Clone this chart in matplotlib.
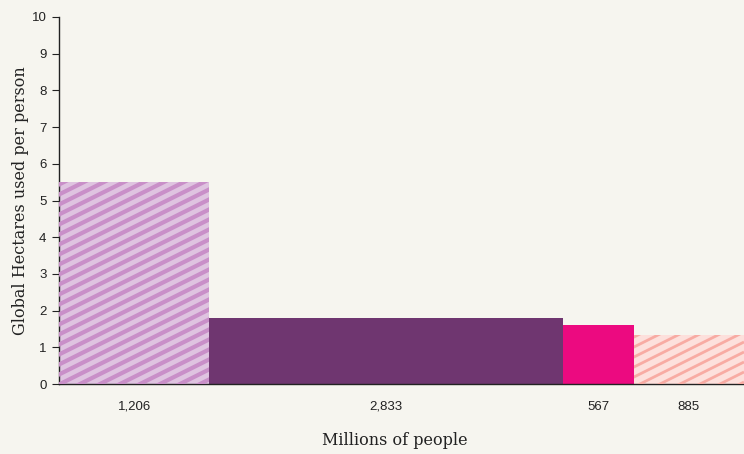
import matplotlib.pyplot as plt
import numpy as np
from matplotlib.transforms import IdentityTransform

# data
population = [1206, 2833, 567, 885]          # millions of people (bar widths)
hectares = [5.5, 1.8, 1.6, 1.35]              # global hectares per person
pop_labels = ["1,206", "2,833", "567", "885"]
fills = ["#dfc3e0", "#6f3670", "#ec0a80", "#fde0dc"]
stripes = ["#c98fc8", None, None, "#f8aba3"]
stripe_w = [3.0, 0, 0, 2.0]

bg = "#f6f5ef"
fig = plt.figure(figsize=(7.44, 4.54), dpi=100, facecolor=bg)
ax = fig.add_axes([0.0793, 0.154, 0.9207, 0.8086], facecolor=bg)

lefts = np.concatenate([[0], np.cumsum(population)[:-1]])
bars = ax.bar(lefts, hectares, width=population, align="edge",
              color=fills, edgecolor="none", linewidth=0, zorder=2)

ax.set_xlim(0, sum(population))
ax.set_ylim(0, 10)

# diagonal stripes drawn in pixel space, clipped to each hatched bar
fig.canvas.draw()
for bar, sc, lw in zip(bars, stripes, stripe_w):
    if sc is None:
        continue
    for c in np.arange(-800, 500, 10):
        ln, = ax.plot([0, 744], [c, c + 372], color=sc, lw=lw,
                      transform=IdentityTransform(), zorder=3,
                      solid_capstyle="butt")
        ln.set_clip_path(bar)

ax.set_yticks(range(11))
ax.tick_params(axis="y", length=5, width=0.8, labelsize=9.5, pad=4,
               colors="#222222")
for t in ax.get_yticklabels():
    t.set_fontfamily("Liberation Sans")
ax.set_xticks(lefts + np.array(population) / 2)
ax.set_xticklabels(pop_labels, fontsize=9.5, fontfamily="Liberation Sans")
ax.tick_params(axis="x", length=0, pad=12, colors="#222222")

for s in ["top", "right"]:
    ax.spines[s].set_visible(False)
for s in ["left", "bottom"]:
    ax.spines[s].set_color("#222222")
    ax.spines[s].set_linewidth(1.0)

ax.set_ylabel("Global Hectares used per person", fontsize=11.5,
              fontfamily="DejaVu Serif", color="#222222", labelpad=2)
ax.set_xlabel("Millions of people", fontsize=11.5,
              fontfamily="DejaVu Serif", color="#222222")
ax.xaxis.set_label_coords(0.49, -0.13)

fig.savefig("out.png", dpi=100, facecolor=bg)
